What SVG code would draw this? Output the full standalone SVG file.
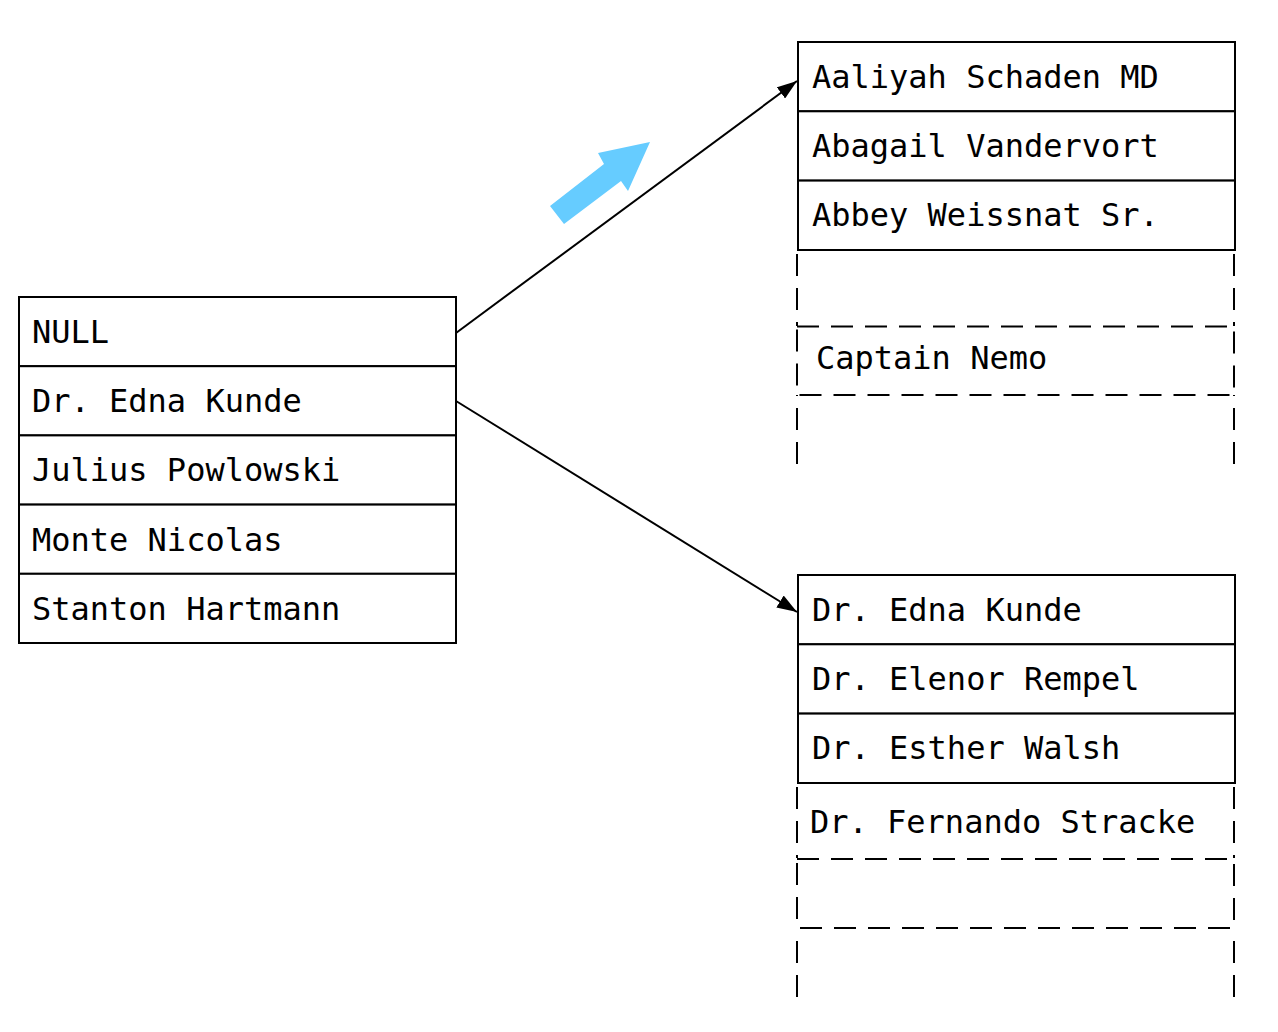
<svg xmlns="http://www.w3.org/2000/svg" width="1278" height="1032" viewBox="0 0 1278 1032">
<style>
.box{fill:#fff;stroke:#000;stroke-width:2}
.dash{fill:none;stroke:#000;stroke-width:2;stroke-dasharray:22 12}
.t{font-family:"DejaVu Sans Mono","Liberation Mono",monospace;font-size:32px;fill:#000}
.conn{stroke:#000;stroke-width:2;fill:none}
</style>
<defs>
<marker id="ah2" viewBox="0 0 20 14" refX="20" refY="7" markerWidth="20" markerHeight="14" markerUnits="userSpaceOnUse" orient="auto">
<path d="M0,0 L20,7 L0,14 z" fill="#000"/>
</marker>
</defs>
<rect width="1278" height="1032" fill="#fff"/>
<g id="left-table">
<rect class="box" x="19" y="297" width="437" height="69.2"/>
<rect class="box" x="19" y="366.2" width="437" height="69.2"/>
<rect class="box" x="19" y="435.4" width="437" height="69.2"/>
<rect class="box" x="19" y="504.6" width="437" height="69.2"/>
<rect class="box" x="19" y="573.8" width="437" height="69.2"/>
<text class="t" x="32" y="343">NULL</text>
<text class="t" x="32" y="412">Dr. Edna Kunde</text>
<text class="t" x="32" y="481">Julius Powlowski</text>
<text class="t" x="32" y="551">Monte Nicolas</text>
<text class="t" x="32" y="620">Stanton Hartmann</text>
</g>
<g id="top-right-table">
<rect class="box" x="798" y="42" width="437" height="69.3"/>
<rect class="box" x="798" y="111.3" width="437" height="69.3"/>
<rect class="box" x="798" y="180.6" width="437" height="69.4"/>
<text class="t" x="812" y="88">Aaliyah Schaden MD</text>
<text class="t" x="812" y="157">Abagail Vandervort</text>
<text class="t" x="812" y="226">Abbey Weissnat Sr.</text>
<line class="dash" x1="797" y1="254" x2="797" y2="326"/>
<line class="dash" x1="1234" y1="254" x2="1234" y2="326"/>
<rect class="dash" x="797" y="326.5" width="437" height="68.5"/>
<text class="t" x="816" y="369">Captain Nemo</text>
<line class="dash" x1="797" y1="464" x2="797" y2="395"/>
<line class="dash" x1="1234" y1="464" x2="1234" y2="395"/>
</g>
<g id="bottom-right-table">
<rect class="box" x="798" y="575" width="437" height="69.3"/>
<rect class="box" x="798" y="644.3" width="437" height="69.3"/>
<rect class="box" x="798" y="713.6" width="437" height="69.4"/>
<text class="t" x="812" y="621">Dr. Edna Kunde</text>
<text class="t" x="812" y="690">Dr. Elenor Rempel</text>
<text class="t" x="812" y="759">Dr. Esther Walsh</text>
<line class="dash" x1="797" y1="787" x2="797" y2="858"/>
<line class="dash" x1="1234" y1="787" x2="1234" y2="858"/>
<text class="t" x="810" y="833">Dr. Fernando Stracke</text>
<rect class="dash" x="797" y="859" width="437" height="69"/>
<line class="dash" x1="797" y1="997" x2="797" y2="929"/>
<line class="dash" x1="1234" y1="997" x2="1234" y2="929"/>
</g>
<g id="connectors">
<line class="conn" x1="456" y1="333" x2="797" y2="81" marker-end="url(#ah2)"/>
<line class="conn" x1="456" y1="401" x2="797" y2="612" marker-end="url(#ah2)"/>
</g>
<g id="blue-arrow">
<polygon points="550,206 604,164 598,153 650,142 628,191 621,181 564,224" fill="#66CCFF"/>
</g>
</svg>
